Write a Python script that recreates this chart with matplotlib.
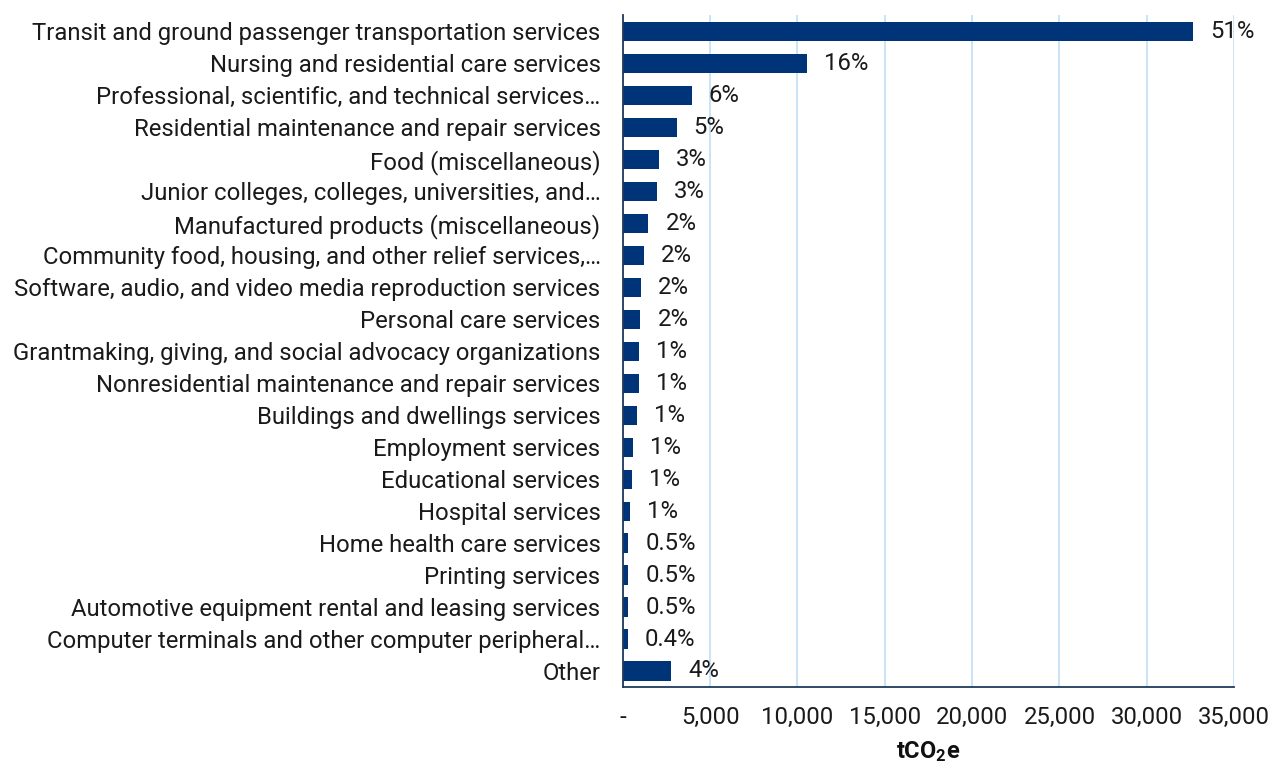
import matplotlib
matplotlib.use("Agg")
import matplotlib.pyplot as plt
from matplotlib.ticker import FixedLocator

plt.rcParams['font.family'] = ['Roboto', 'DejaVu Sans']
plt.rcParams['mathtext.fontset'] = 'custom'
plt.rcParams['mathtext.rm'] = 'Roboto'
plt.rcParams['mathtext.bf'] = 'Roboto:bold'

categories = [
    "Transit and ground passenger transportation services",
    "Nursing and residential care services",
    "Professional, scientific, and technical services…",
    "Residential maintenance and repair services",
    "Food (miscellaneous)",
    "Junior colleges, colleges, universities, and…",
    "Manufactured products (miscellaneous)",
    "Community food, housing, and other relief services,…",
    "Software, audio, and video media reproduction services",
    "Personal care services",
    "Grantmaking, giving, and social advocacy organizations",
    "Nonresidential maintenance and repair services",
    "Buildings and dwellings services",
    "Employment services",
    "Educational services",
    "Hospital services",
    "Home health care services",
    "Printing services",
    "Automotive equipment rental and leasing services",
    "Computer terminals and other computer peripheral…",
    "Other",
]
values = [32650, 10540, 3950, 3090, 2080, 1930, 1470, 1200, 1030, 1010,
          955, 915, 820, 590, 515, 420, 325, 320, 315, 270, 2770]
pct_labels = ["51%", "16%", "6%", "5%", "3%", "3%", "2%", "2%", "2%", "2%",
              "1%", "1%", "1%", "1%", "1%", "1%", "0.5%", "0.5%", "0.5%", "0.4%", "4%"]
xticks = [0, 5000, 10000, 15000, 20000, 25000, 30000, 35000]
xtick_labels = ["-", "5,000", "10,000", "15,000", "20,000", "25,000", "30,000", "35,000"]

FS = 17.2
TXT = "#1a1a1a"

fig = plt.figure(figsize=(12.71, 7.64), dpi=100)
ax = fig.add_axes([0.490, 0.1008, 0.481, 0.879])

ypos = list(range(len(categories)))
bars = ax.barh(ypos, values, height=0.6, color="#003478", zorder=3)
ax.set_ylim(len(categories) - 0.5, -0.5)
ax.set_xlim(0, 35000)

ax.set_yticks(ypos)
ax.set_yticklabels(categories, fontsize=FS, color=TXT)
ax.tick_params(axis='y', length=0, pad=16)

ax.xaxis.set_major_locator(FixedLocator(xticks))
ax.set_xticklabels(xtick_labels, fontsize=FS, color=TXT)
ax.tick_params(axis='x', length=0, pad=14)

ax.grid(axis='x', color="#c5e1f7", linewidth=1.3, zorder=0)
for s in ['top', 'right']:
    ax.spines[s].set_visible(False)
ax.spines['left'].set_color("#1f3a5a")
ax.spines['left'].set_linewidth(1.3)
ax.spines['bottom'].set_color("#1f3a5a")
ax.spines['bottom'].set_linewidth(1.3)
ax.spines['left'].set_zorder(4)

for b, lab in zip(bars, pct_labels):
    ax.annotate(lab, (b.get_width(), b.get_y() + b.get_height() / 2),
                xytext=(17, 0), textcoords='offset pixels',
                va='center', ha='left', fontsize=FS, color=TXT, zorder=5)

ax.set_xlabel(r"$\mathbf{tCO_2e}$", fontsize=17, labelpad=7, color="#111111")

fig.savefig("out.png", dpi=100)
